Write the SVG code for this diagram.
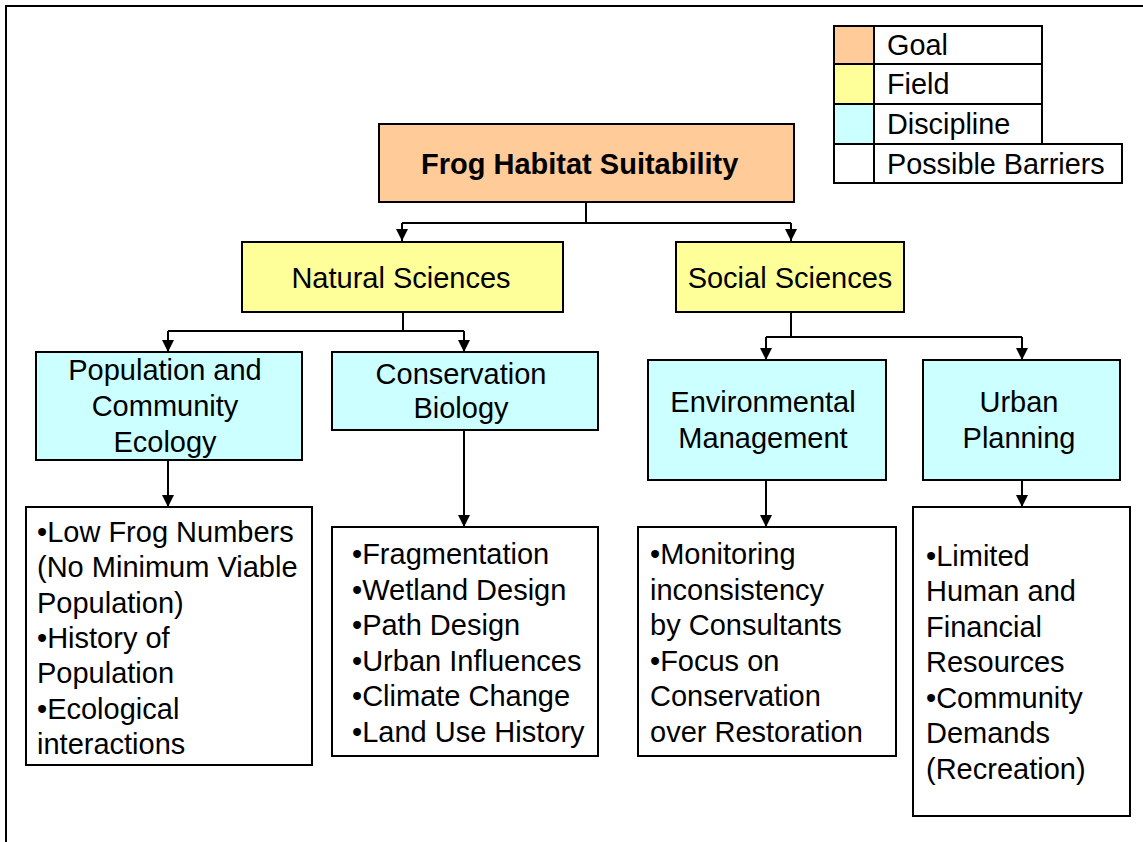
<svg xmlns="http://www.w3.org/2000/svg" width="1143" height="842" viewBox="0 0 1143 842">
<style>
.box{stroke:#000;stroke-width:2}
.goal{fill:#FFCC99}
.field{fill:#FFFF99}
.disc{fill:#CCFFFF}
.bar{fill:#FFFFFF}
text{font-family:"Liberation Sans",Arial,sans-serif;font-size:29px;fill:#000}
.c{text-anchor:middle}
.b{font-weight:bold}
.lg{font-size:28.8px}
.conn{fill:none;stroke:#000;stroke-width:2}
</style>
<defs>
<marker id="ah" viewBox="0 0 12 12" refX="12" refY="6" markerWidth="12" markerHeight="12" markerUnits="userSpaceOnUse" orient="auto">
<path d="M0,0 L12,6 L0,12 z" fill="#000"/>
</marker>
</defs>
<rect x="0" y="0" width="1143" height="842" fill="#fff"/>
<path d="M6,842 V6 H1143" fill="none" stroke="#000" stroke-width="2"/>

<g id="legend">
<rect class="box goal" x="834" y="26" width="40" height="38"/>
<rect class="box bar" x="874" y="26" width="168" height="38"/>
<rect class="box field" x="834" y="64" width="40" height="40"/>
<rect class="box bar" x="874" y="64" width="168" height="40"/>
<rect class="box disc" x="834" y="104" width="40" height="40"/>
<rect class="box bar" x="874" y="104" width="168" height="40"/>
<rect class="box bar" x="834" y="144" width="40" height="39"/>
<rect class="box bar" x="874" y="144" width="248" height="39"/>
<text class="lg" x="887" y="55">Goal</text>
<text class="lg" x="887" y="94">Field</text>
<text class="lg" x="887" y="134">Discipline</text>
<text class="lg" x="887" y="174">Possible Barriers</text>
</g>

<g id="connectors">
<path class="conn" d="M586,202 V223 M402,223 H791"/>
<path class="conn" d="M402,223 V241" marker-end="url(#ah)"/>
<path class="conn" d="M791,223 V241" marker-end="url(#ah)"/>
<path class="conn" d="M403,312 V331 M168,331 H464"/>
<path class="conn" d="M168,331 V352" marker-end="url(#ah)"/>
<path class="conn" d="M464,331 V352" marker-end="url(#ah)"/>
<path class="conn" d="M791,312 V337 M766,337 H1022"/>
<path class="conn" d="M766,337 V360" marker-end="url(#ah)"/>
<path class="conn" d="M1022,337 V360" marker-end="url(#ah)"/>
<path class="conn" d="M168,460 V507" marker-end="url(#ah)"/>
<path class="conn" d="M464,430 V527" marker-end="url(#ah)"/>
<path class="conn" d="M766,480 V527" marker-end="url(#ah)"/>
<path class="conn" d="M1022,480 V507" marker-end="url(#ah)"/>
</g>

<g id="goal">
<rect class="box goal" x="379" y="124" width="415" height="78"/>
<text class="b" x="421" y="174">Frog Habitat Suitability</text>
</g>

<g id="natural-sciences">
<rect class="box field" x="242" y="242" width="321" height="70"/>
<text class="c" x="401" y="288">Natural Sciences</text>
</g>

<g id="social-sciences">
<rect class="box field" x="676" y="242" width="228" height="70"/>
<text class="c" x="790" y="288">Social Sciences</text>
</g>

<g id="population-community-ecology">
<rect class="box disc" x="36" y="352" width="266" height="108"/>
<text class="c" x="165" y="380">Population and</text>
<text class="c" x="165" y="416">Community</text>
<text class="c" x="165" y="452">Ecology</text>
</g>

<g id="conservation-biology">
<rect class="box disc" x="332" y="352" width="266" height="78"/>
<text class="c" x="461" y="384">Conservation</text>
<text class="c" x="461" y="418">Biology</text>
</g>

<g id="environmental-management">
<rect class="box disc" x="648" y="360" width="238" height="120"/>
<text class="c" x="763" y="412">Environmental</text>
<text class="c" x="763" y="448">Management</text>
</g>

<g id="urban-planning">
<rect class="box disc" x="923" y="360" width="197" height="120"/>
<text class="c" x="1019" y="412">Urban</text>
<text class="c" x="1019" y="448">Planning</text>
</g>

<g id="barriers-ecology">
<rect class="box bar" x="26" y="507" width="286" height="258"/>
<text x="37" y="542">•Low Frog Numbers</text>
<text x="37" y="577">(No Minimum Viable</text>
<text x="37" y="613">Population)</text>
<text x="37" y="648">•History of</text>
<text x="37" y="683">Population</text>
<text x="37" y="719">•Ecological</text>
<text x="37" y="754">interactions</text>
</g>

<g id="barriers-conservation">
<rect class="box bar" x="332" y="527" width="266" height="229"/>
<text x="352" y="564">•Fragmentation</text>
<text x="352" y="600">•Wetland Design</text>
<text x="352" y="635">•Path Design</text>
<text x="352" y="671">•Urban Influences</text>
<text x="352" y="706">•Climate Change</text>
<text x="352" y="742">•Land Use History</text>
</g>

<g id="barriers-management">
<rect class="box bar" x="638" y="527" width="258" height="229"/>
<text x="650" y="564">•Monitoring</text>
<text x="650" y="600">inconsistency</text>
<text x="650" y="635">by Consultants</text>
<text x="650" y="671">•Focus on</text>
<text x="650" y="706">Conservation</text>
<text x="650" y="742">over Restoration</text>
</g>

<g id="barriers-planning">
<rect class="box bar" x="913" y="507" width="217" height="309"/>
<text x="926" y="566">•Limited</text>
<text x="926" y="601">Human and</text>
<text x="926" y="637">Financial</text>
<text x="926" y="672">Resources</text>
<text x="926" y="708">•Community</text>
<text x="926" y="743">Demands</text>
<text x="926" y="779">(Recreation)</text>
</g>
</svg>
